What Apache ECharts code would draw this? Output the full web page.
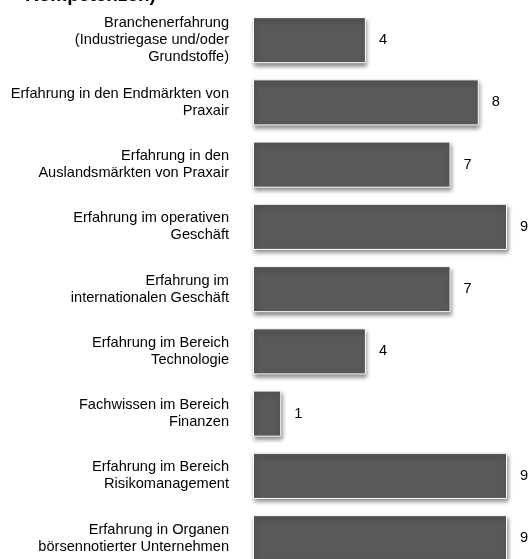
<!DOCTYPE html>
<html>
<head>
<meta charset="utf-8">
<script src="https://cdn.jsdelivr.net/npm/echarts@6/dist/echarts.min.js"></script>
<style>html,body{margin:0;padding:0;background:#fff;overflow:hidden}#c{width:529px;height:570px}</style>
</head>
<body>
<div id="c"></div>
<script>
var categories = [
  "Branchenerfahrung\n(Industriegase und/oder\nGrundstoffe)",
  "Erfahrung in den Endmärkten von\nPraxair",
  "Erfahrung in den\nAuslandsmärkten von Praxair",
  "Erfahrung im operativen\nGeschäft",
  "Erfahrung im\ninternationalen Geschäft",
  "Erfahrung im Bereich\nTechnologie",
  "Fachwissen im Bereich\nFinanzen",
  "Erfahrung im Bereich\nRisikomanagement",
  "Erfahrung in Organen\nbörsennotierter Unternehmen"
];
var values = [4, 8, 7, 9, 7, 4, 1, 9, 9];
var titleText = "Kompetenzen)";

var chart = echarts.init(document.getElementById('c'), null, {renderer: 'canvas'});
chart.setOption({
  animation: false,
  backgroundColor: '#fff',
  graphic: [{
    type: 'text',
    left: 25,
    top: -14,
    style: {
      text: titleText,
      font: 'bold 19px "Liberation Sans", Arial, sans-serif',
      fill: '#000'
    }
  }],
  grid: {left: 253, top: 9, right: 22, bottom: 0.75},
  xAxis: {
    type: 'value', min: 0, max: 9, show: false
  },
  yAxis: {
    type: 'category',
    inverse: true,
    data: categories,
    axisLine: {show: false},
    axisTick: {show: false},
    axisLabel: {
      margin: 24,
      color: '#000',
      fontSize: 14.6,
      lineHeight: 17,
      fontFamily: '"Liberation Sans", Arial, sans-serif',
      align: 'right'
    }
  },
  series: [{
    type: 'bar',
    data: values,
    barCategoryGap: '26%',
    itemStyle: {
      color: '#595959',
      borderColor: '#ffffff',
      borderWidth: 1,
      shadowColor: 'rgba(0,0,0,0.45)',
      shadowBlur: 4,
      shadowOffsetX: 1,
      shadowOffsetY: 3
    },
    label: {
      show: true,
      position: 'right',
      distance: 13,
      color: '#000',
      fontSize: 14.6,
      fontFamily: '"Liberation Sans", Arial, sans-serif'
    }
  }]
});
</script>
</body>
</html>
